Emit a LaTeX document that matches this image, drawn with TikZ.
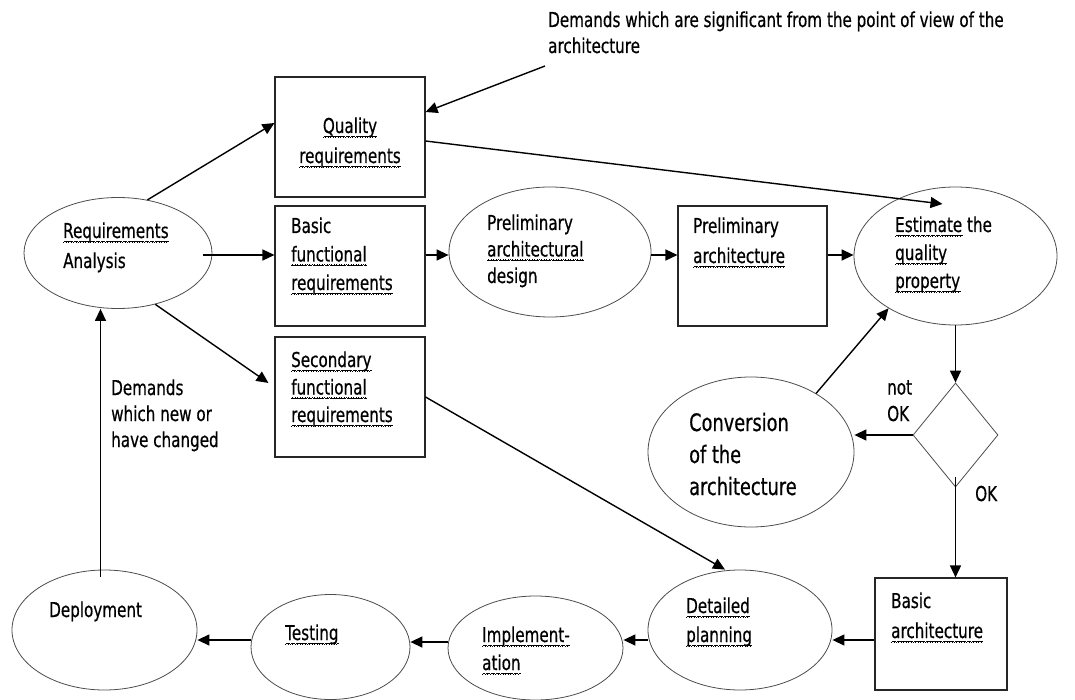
\documentclass[tikz,border=0pt]{standalone}
\usepackage{fontspec}
\setmainfont{DejaVu Sans}[FakeStretch=0.74,FakeBold=0.5]
\usetikzlibrary{arrows.meta,shapes.geometric}
% red wavy underline used for the spell-checked words (built from tiny rules)
\newsavebox\wavebox
\newsavebox\wordbox
\sbox\wavebox{\rule[0pt]{0.6pt}{0.6pt}\rule[0.6pt]{0.6pt}{0.6pt}\rule[1.2pt]{0.6pt}{0.6pt}\rule[0.6pt]{0.6pt}{0.6pt}}
\newcommand\spell[1]{\sbox\wordbox{#1}%
  \rlap{\raisebox{-4.5pt}[0pt][0pt]{\color[RGB]{230,80,80}\hbox to \wd\wordbox{\xleaders\copy\wavebox\hfil}}}\usebox\wordbox}

\begin{document}
\begin{tikzpicture}[x=1pt,y=-1pt,
  box/.style={draw=black!85, line width=1.1pt, rectangle, inner sep=0pt},
  oval/.style={draw=black!70, line width=0.8pt, ellipse, inner sep=0pt},
  decision/.style={draw=black!70, line width=0.8pt, diamond, inner sep=0pt},
  txt/.style={anchor=base west, align=left, inner sep=0pt, font=\fontsize{20.5}{29}\selectfont},
  bigtxt/.style={anchor=base west, align=left, inner sep=0pt, font=\fontsize{24}{32}\selectfont},
  flow/.style={line width=1.4pt, -{Triangle[length=12pt,width=11pt]}},
]
\useasboundingbox (0,0) rectangle (1075,700);

% ---------- shapes ----------
\node[oval, minimum width=188pt, minimum height=111pt] (ra) at (118,253) {};
\node[box, minimum width=150pt, minimum height=120pt] (qr) at (350,137) {};
\node[box, minimum width=150pt, minimum height=120pt] (bfr) at (350,266) {};
\node[box, minimum width=150pt, minimum height=120pt] (sfr) at (350,397) {};
\node[oval, minimum width=202pt, minimum height=130pt] (pad) at (550,252) {};
\node[box, minimum width=149pt, minimum height=120pt] (pa) at (752.5,266) {};
\node[oval, minimum width=203pt, minimum height=138pt] (est) at (955.5,256) {};
\node[decision, minimum width=85pt, minimum height=104pt] (dia) at (955.5,435) {};
\node[oval, minimum width=206pt, minimum height=150pt] (conv) at (751,452) {};
\node[box, minimum width=132pt, minimum height=112pt] (ba) at (941,634) {};
\node[oval, minimum width=184pt, minimum height=120pt] (dp) at (740,630) {};
\node[oval, minimum width=175pt, minimum height=104pt] (imp) at (535.5,648) {};
\node[oval, minimum width=159pt, minimum height=105pt] (tst) at (330.5,647) {};
\node[oval, minimum width=185pt, minimum height=120pt] (dep) at (104.5,630) {};

% ---------- texts (positions give the baseline of the last line) ----------
\node[txt, font=\fontsize{20.5}{30}\selectfont] (ra-t) at (63,268) {\spell{Requirements}\\Analysis};
\node[txt, anchor=base, align=center, font=\fontsize{20.5}{30}\selectfont] (qr-t) at (350,163) {\spell{Quality}\\\spell{requirements}};
\node[txt, font=\fontsize{20.5}{28.5}\selectfont] (bfr-t) at (291,290) {Basic\\\spell{functional}\\\spell{requirements}};
\node[txt, font=\fontsize{20.5}{27.5}\selectfont] (sfr-t) at (291,422) {\spell{Secondary}\\\spell{functional}\\\spell{requirements}};
\node[txt, font=\fontsize{20.5}{26.5}\selectfont] (pad-t) at (487,283) {Preliminary\\\spell{architectural}\\design};
\node[txt, font=\fontsize{20.5}{30}\selectfont] (pa-t) at (693,263) {Preliminary\\\spell{architecture}};
\node[txt, font=\fontsize{20.5}{28}\selectfont] (est-t) at (895,288) {\spell{Estimate} the\\\spell{quality}\\\spell{property}};
\node[bigtxt] (conv-t) at (689,495) {Conversion\\of the\\architecture};
\node[txt, font=\fontsize{20.5}{26.5}\selectfont] (nok-t) at (887,421) {not\\OK};
\node[txt] (ok-t) at (975,501) {OK};
\node[txt, font=\fontsize{20.5}{30}\selectfont] (ba-t) at (891,638) {Basic\\\spell{architecture}};
\node[txt] (dp-t) at (686,642) {\spell{Detailed}\\\spell{planning}};
\node[txt, font=\fontsize{20.5}{28}\selectfont] (imp-t) at (482,670) {\spell{Implement-}\\\spell{ation}};
\node[txt] (tst-t) at (285,640) {\spell{Testing}};
\node[txt] (dep-t) at (49,617) {Deployment};
\node[txt, font=\fontsize{20.5}{26}\selectfont] (chg-t) at (111,447) {Demands\\which new or\\have changed};
\node[txt, font=\fontsize{20.5}{26}\selectfont] (sig-t) at (548,53) {Demands which are significant from the point of view of the\\architecture};

% ---------- connectors ----------
\coordinate (sig-end) at (545,66);
\draw[flow] (sig-end) -- ([shift={(0,-25)}]qr.east);
\draw[flow] (ra.61) -- ([shift={(0,-14)}]qr.west);
\draw[flow] ([shift={(0,4)}]qr.east) -- ([shift={(-13,-52)}]est.center);
\draw[flow] ([shift={(-9,2)}]ra.east) -- ([shift={(0,-11)}]bfr.west);
\draw[flow] ([shift={(0,-11)}]bfr.east) -- ([shift={(0,3)}]pad.west);
\draw[flow] ([shift={(0,3)}]pad.east) -- ([shift={(0,-11)}]pa.west);
\draw[flow] ([shift={(0,-11)}]pa.east) -- ([shift={(0,-1)}]est.west);
\draw[flow] (ra.-54) -- ([shift={(-6,-14)}]sfr.west);
\draw[flow] (sfr.east) -- ([shift={(-15,0)}]dp.north);
\draw[flow] (est.south) -- (dia.north);
\draw[flow] ([shift={(0,-10)}]dia.south) -- (dia.south |- ba.north);
\draw[flow] (dia.west) -- (dia.west -| conv.east);
\draw[flow] (conv.42) -- (est.-142);

\coordinate (ba-out) at ([shift={(0,6)}]ba.west);
\draw[flow] (ba-out) -- (ba-out -| dp.east);
\coordinate (dp-out) at ([shift={(0,10)}]dp.west);
\draw[flow] (dp-out) -- (dp-out -| imp.east);
\coordinate (imp-out) at ([shift={(0,-6)}]imp.west);
\draw[flow] (imp-out) -- (imp-out -| tst.east);
\coordinate (tst-out) at ([shift={(0,-7)}]tst.west);
\draw[flow] (tst-out) -- (tst-out -| dep.east);
\coordinate (dep-out) at ([shift={(-4,7)}]dep.north);
\draw[flow] (dep-out) -- (dep-out |- ra.south);
\end{tikzpicture}
\end{document}
